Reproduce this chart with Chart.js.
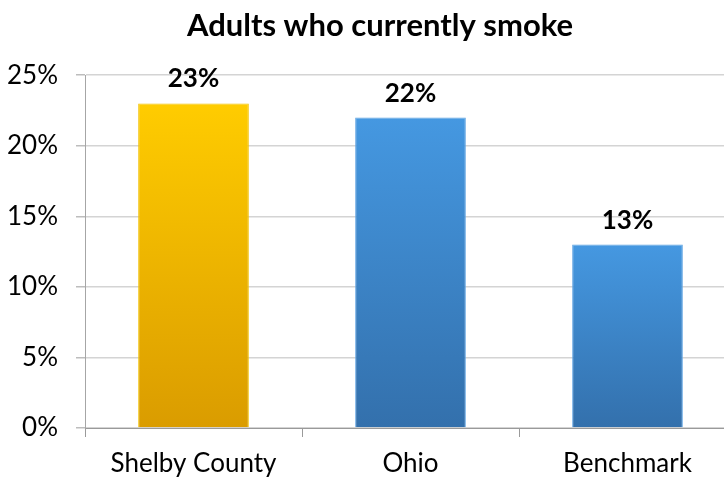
<!DOCTYPE html>
<html>
<head>
<meta charset="utf-8">
<script src="https://cdn.jsdelivr.net/npm/chart.js@4/dist/chart.umd.min.js"></script>
<style>
  html, body { margin: 0; padding: 0; background: #fff; overflow: hidden; }
  #wrap { width: 724px; height: 477px; overflow: hidden; position: relative; }
  canvas { display: block; }
</style>
</head>
<body>
<div id="wrap"><canvas id="c" width="760" height="483"></canvas></div>
<script>
const title = 'Adults who currently smoke';
const categories = ['Shelby County', 'Ohio', 'Benchmark'];
const values = [23, 22, 13];
const tickValues = [0, 5, 10, 15, 20, 25];
const topColors = ['#FFCC00', '#4598E1', '#4598E1'];
const bottomColors = ['#DA9C00', '#3370AC', '#3370AC'];
const borderColors = ['#F2C200', '#5DA3E2', '#5DA3E2'];

const FONT = 'Lato, "Liberation Sans", sans-serif';

function barGradient(ctx) {
  const chart = ctx.chart;
  const i = ctx.dataIndex;
  const y = chart.scales && chart.scales.y;
  if (!chart.chartArea || !y) return topColors[i];
  const top = y.getPixelForValue(values[i]);
  const base = y.getPixelForValue(0);
  const g = chart.ctx.createLinearGradient(0, top, 0, base);
  g.addColorStop(0, topColors[i]);
  g.addColorStop(1, bottomColors[i]);
  return g;
}

const valueLabels = {
  id: 'valueLabels',
  afterDatasetsDraw(chart) {
    const ctx = chart.ctx;
    const meta = chart.getDatasetMeta(0);
    ctx.save();
    ctx.font = 'bold 26px ' + FONT;
    ctx.fillStyle = '#000';
    ctx.textAlign = 'center';
    ctx.textBaseline = 'alphabetic';
    meta.data.forEach((bar, i) => {
      ctx.fillText(values[i] + '%', bar.x, bar.y - 16);
    });
    ctx.restore();
  }
};

// centre the title over the visible picture rather than the wider canvas
const titleShift = {
  id: 'titleShift',
  afterLayout(chart) {
    const tb = chart.titleBlock;
    if (tb) { tb.left = 24; tb.right = 736; tb.width = 712; }
  }
};

new Chart(document.getElementById('c'), {
  type: 'bar',
  data: {
    labels: categories,
    datasets: [{
      data: values,
      backgroundColor: barGradient,
      borderColor: borderColors,
      borderWidth: 1,
      barPercentage: 0.51,
      categoryPercentage: 1
    }]
  },
  options: {
    responsive: false,
    animation: false,
    devicePixelRatio: 1,
    layout: { padding: { left: 0, right: 24, top: 0, bottom: 0 } },
    plugins: {
      legend: { display: false },
      tooltip: { enabled: false },
      title: {
        display: true,
        text: title,
        color: '#000',
        font: { family: FONT, size: 31, weight: 'bold', lineHeight: 1.2 },
        padding: { top: 7, bottom: 31 }
      }
    },
    scales: {
      x: {
        grid: {
          display: true,
          drawOnChartArea: false,
          drawTicks: true,
          tickLength: 9,
          offset: true,
          color: '#9a9a9a'
        },
        border: { display: true, color: '#9a9a9a', width: 1 },
        ticks: {
          color: '#000',
          padding: 11,
          font: { family: FONT, size: 26, lineHeight: 1.2 }
        },
        afterFit(scale) { scale.height = 55; }
      },
      y: {
        min: 0,
        max: 25,
        afterBuildTicks(scale) { scale.ticks = tickValues.map(v => ({ value: v })); },
        grid: {
          color: '#d4d4d4',
          lineWidth: 1.5,
          tickLength: 9,
          tickColor: '#bdbdbd'
        },
        border: { display: true, color: '#a6a6a6', width: 1 },
        ticks: {
          color: '#000',
          padding: 18,
          font: { family: FONT, size: 26 },
          callback: v => v + '%'
        },
        afterFit(scale) { scale.width = 85; }
      }
    }
  },
  plugins: [valueLabels, titleShift]
});
</script>
</body>
</html>
